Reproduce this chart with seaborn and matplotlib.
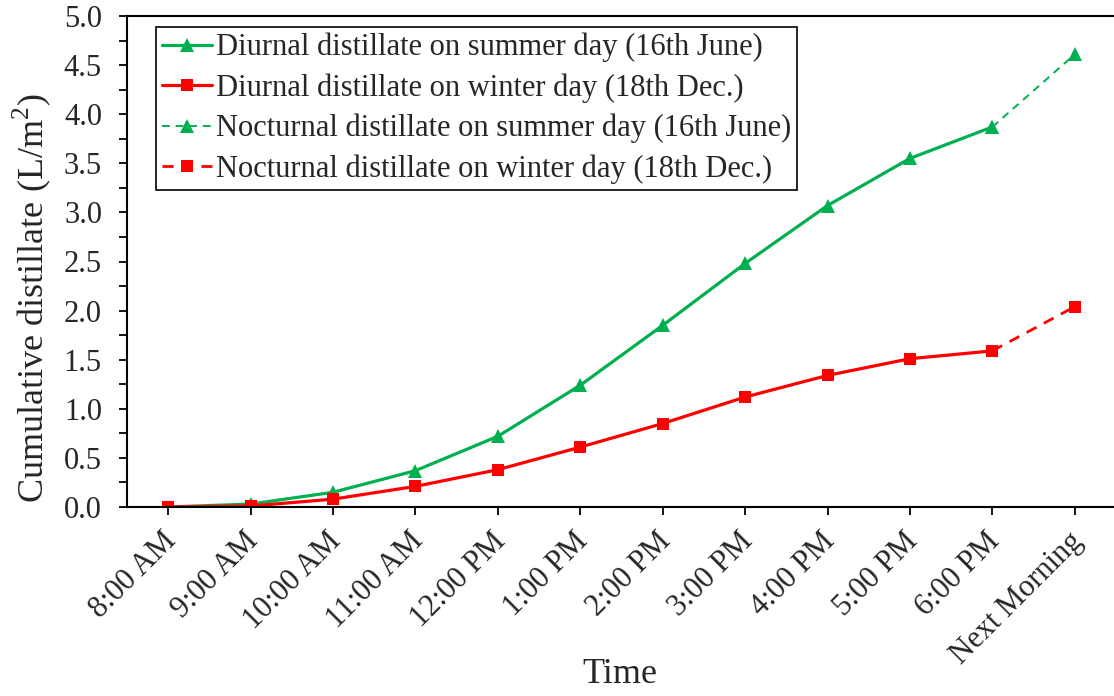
import matplotlib
matplotlib.use("Agg")
import matplotlib.pyplot as plt
from matplotlib.ticker import MultipleLocator
from matplotlib.transforms import ScaledTranslation
import seaborn as sns
import pandas as pd
import numpy as np

times = ["8:00 AM", "9:00 AM", "10:00 AM", "11:00 AM", "12:00 PM", "1:00 PM",
         "2:00 PM", "3:00 PM", "4:00 PM", "5:00 PM", "6:00 PM", "Next Morning"]

summer_diurnal = [0.0, 0.03, 0.15, 0.37, 0.72, 1.24, 1.85, 2.48, 3.07, 3.55, 3.87]
winter_diurnal = [0.0, 0.01, 0.08, 0.21, 0.38, 0.61, 0.85, 1.12, 1.34, 1.51, 1.59]
summer_nocturnal = [3.87, 4.61]
winter_nocturnal = [1.59, 2.04]

labels = ["Diurnal distillate on summer day (16th June)",
          "Diurnal distillate on winter day (18th Dec.)",
          "Nocturnal distillate on summer day (16th June)",
          "Nocturnal distillate on winter day (18th Dec.)"]

GREEN = "#00B050"
RED = "#FF0000"

sns.set_style("ticks")
plt.rcParams["font.family"] = ["Liberation Serif", "DejaVu Serif"]
plt.rcParams["mathtext.fontset"] = "custom"
plt.rcParams["mathtext.rm"] = "Liberation Serif"

fig = plt.figure(figsize=(11.14, 6.96), dpi=100)
ax = fig.add_axes([127 / 1114, 1 - 507 / 696, (1116 - 127) / 1114, (507 - 16) / 696])

pos = np.arange(len(times))
df_sd = pd.DataFrame({"x": pos[:11], "y": summer_diurnal})
df_wd = pd.DataFrame({"x": pos[:11], "y": winter_diurnal})
df_sn = pd.DataFrame({"x": pos[10:], "y": summer_nocturnal})
df_wn = pd.DataFrame({"x": pos[10:], "y": winter_nocturnal})

sns.lineplot(data=df_sn, x="x", y="y", ax=ax, color=GREEN, lw=1.4, ls=(0, (4, 3)),
             marker="^", markersize=10.5, markeredgewidth=0, label=labels[2])
sns.lineplot(data=df_wn, x="x", y="y", ax=ax, color=RED, lw=2.0, ls=(0, (4, 3)),
             marker="s", markersize=9, markeredgewidth=0, label=labels[3])
sns.lineplot(data=df_sd, x="x", y="y", ax=ax, color=GREEN, lw=2.3,
             marker="^", markersize=10.5, markeredgewidth=0, label=labels[0])
sns.lineplot(data=df_wd, x="x", y="y", ax=ax, color=RED, lw=2.3,
             marker="s", markersize=9, markeredgewidth=0, label=labels[1])

ax.set_xlim(-0.5, 11.5)
ax.set_ylim(0, 5.0)
ax.set_xticks(pos)
ax.set_xticklabels(times, rotation=45, ha="right", va="top", rotation_mode="anchor",
                   fontsize=22)
ax.yaxis.set_minor_locator(MultipleLocator(0.25))
ax.set_yticks(np.arange(0, 5.01, 0.5))
ax.set_yticklabels([f"{v:.1f}" for v in np.arange(0, 5.01, 0.5)], fontsize=22)
ax.tick_params(axis="both", which="both", direction="out", length=6, width=1.3,
               color="black")
ax.tick_params(axis="x", pad=8)
ax.tick_params(axis="y", pad=12)

# nudge the slanted category labels slightly to the left of their ticks
shift = ScaledTranslation(-5 / 72, 0, fig.dpi_scale_trans)
for lab in ax.get_xticklabels():
    lab.set_transform(lab.get_transform() + shift)

for s in ax.spines.values():
    s.set_linewidth(1.5)
    s.set_color("black")

ax.set_xlabel("Time", fontsize=26, va="top")
ax.xaxis.set_label_coords(0.4985, -0.3075)
ax.set_ylabel("Cumulative distillate (L/m$^2$)", fontsize=26)
ax.yaxis.set_label_coords(-0.0748, 0.4257)

handles, lbls = ax.get_legend_handles_labels()
order = [lbls.index(l) for l in labels]
leg = ax.legend([handles[i] for i in order], [lbls[i] for i in order],
                loc="upper left", bbox_to_anchor=(0.029, 0.978), fontsize=22,
                frameon=True, fancybox=False, edgecolor="black", framealpha=1,
                handlelength=1.63, handletextpad=0.13, borderpad=0.2,
                labelspacing=0.36, borderaxespad=0)
leg.get_frame().set_linewidth(1.2)

fig.savefig("out.png", dpi=100)
